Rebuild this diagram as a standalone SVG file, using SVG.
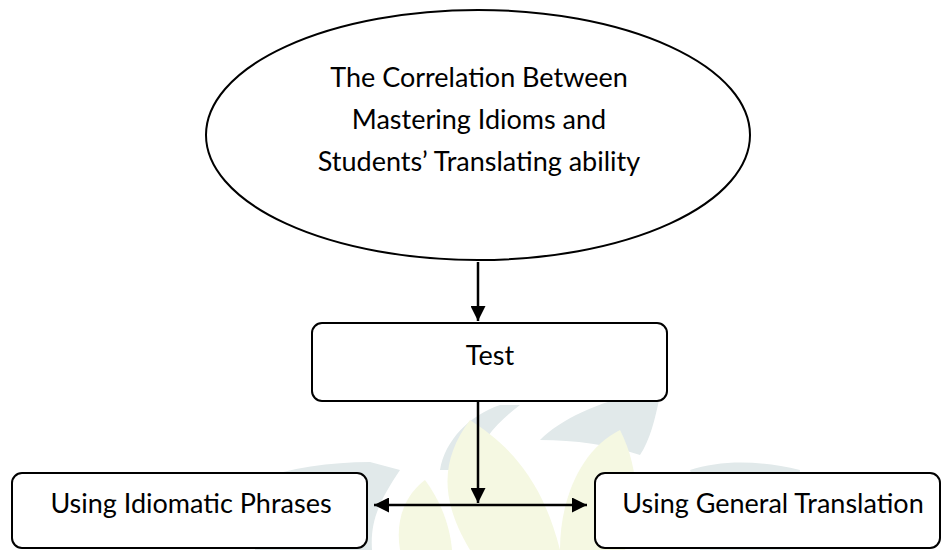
<svg xmlns="http://www.w3.org/2000/svg" width="941" height="550" viewBox="0 0 941 550">
<style>
.shape{fill:#fff;stroke:#000;stroke-width:2}
.txt{font-family:Lato,"Liberation Sans",sans-serif;font-size:27px;fill:#000;text-anchor:middle}
.conn{stroke:#000;stroke-width:2.5;fill:none}
.wm1{fill:#e1e9ea}
.wm2{fill:#f5f8e2}
</style>
<defs>
<marker id="ah" viewBox="0 0 10 10" refX="10" refY="5" markerWidth="6" markerHeight="6" orient="auto-start-reverse" markerUnits="strokeWidth">
<path d="M0,0 L10,5 L0,10 Z" fill="#000"/>
</marker>
</defs>
<rect width="941" height="550" fill="#fff"/>
<g id="watermark">
<path class="wm1" d="M440,470 C445,440 470,415 500,405 L520,405 C500,420 480,440 470,470 Z"/>
<path class="wm1" d="M540,440 C560,420 600,400 640,395 L660,395 C655,420 650,440 640,455 C610,445 575,440 540,440 Z"/>
<path class="wm1" d="M255,480 C290,468 330,462 370,462 L400,470 C380,500 370,520 372,550 L255,550 Z"/>
<path class="wm1" d="M690,470 C720,460 760,460 800,470 L790,550 L700,550 C700,520 698,495 690,470 Z"/>
<path class="wm2" d="M470,550 C440,500 440,460 470,420 C500,440 540,470 560,550 Z"/>
<path class="wm2" d="M560,550 C560,500 580,450 620,430 C640,470 640,510 625,550 Z"/>
<path class="wm2" d="M400,550 C395,520 405,495 425,480 C440,500 450,525 452,550 Z"/>
</g>
<g id="connectors">
<line class="conn" x1="478" y1="262" x2="478" y2="321" marker-end="url(#ah)"/>
<line class="conn" x1="478" y1="401" x2="478" y2="503" marker-end="url(#ah)"/>
<line class="conn" x1="374" y1="505" x2="587" y2="505" marker-start="url(#ah)" marker-end="url(#ah)"/>
</g>
<g id="node-main">
<ellipse class="shape" cx="478" cy="135" rx="272" ry="125"/>
<text class="txt" x="479" y="87">The Correlation Between</text>
<text class="txt" x="479" y="129">Mastering Idioms and</text>
<text class="txt" x="479" y="171">Students’ Translating ability</text>
</g>
<g id="node-test">
<rect class="shape" x="312" y="323" width="355" height="78" rx="10"/>
<text class="txt" x="490" y="365">Test</text>
</g>
<g id="node-idiomatic">
<rect class="shape" x="12" y="473" width="355" height="75" rx="10"/>
<text class="txt" x="191" y="513">Using Idiomatic Phrases</text>
</g>
<g id="node-general">
<rect class="shape" x="595" y="473" width="345" height="75" rx="10"/>
<text class="txt" x="773" y="513">Using General Translation</text>
</g>
</svg>
